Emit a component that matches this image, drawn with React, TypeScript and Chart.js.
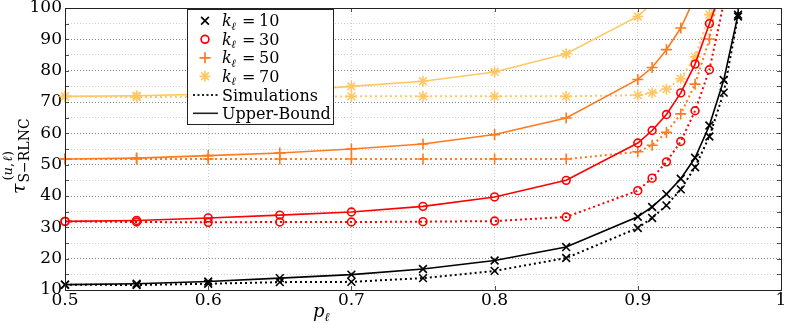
import React, { useEffect, useRef } from 'react';
import { Chart, registerables } from 'chart.js';

Chart.register(...registerables);

// ---- data ----
const pValues = [0.5, 0.55, 0.6, 0.65, 0.7, 0.75, 0.8, 0.85, 0.9, 0.91, 0.92, 0.93, 0.94, 0.95, 0.96, 0.97, 0.98];

const k10Upper = [11.7, 12.0, 12.7, 13.8, 14.9, 16.7, 19.4, 23.7, 33.4, 36.5, 40.6, 45.5, 52.2, 62.5, 77.0, 97.9, 250];
const k10Sim = [11.7, 11.6, 12.0, 12.5, 12.6, 13.8, 16.1, 20.2, 29.8, 33.0, 37.0, 42.1, 49.2, 59.0, 73.0, 97.3, 250];
const k30Upper = [31.9, 32.2, 33.0, 33.9, 34.9, 36.7, 39.7, 45.0, 56.9, 60.9, 66.0, 72.9, 82.1, 95.0, 108];
const k30Sim = [31.9, 31.7, 31.6, 31.7, 31.7, 31.8, 32.0, 33.3, 41.7, 45.7, 50.9, 57.4, 67.2, 80.3, 101.5];
const k50Upper = [51.8, 52.1, 52.9, 53.7, 55.0, 56.6, 59.6, 64.9, 77.2, 81.0, 86.7, 93.6, 103.5];
const k50Sim = [51.8, 51.8, 51.8, 51.8, 51.8, 51.8, 51.8, 51.8, 54.1, 56.2, 60.3, 66.2, 75.7, 90.1, 115];
const k70Upper = [71.8, 72.0, 72.5, 73.4, 75.0, 76.6, 79.6, 85.4, 97.3, 101.5];
const k70Sim = [71.8, 71.6, 71.7, 71.7, 71.8, 71.8, 71.8, 71.8, 72.2, 72.9, 74.1, 77.4, 84.4, 97.9, 110];

const kLabels = ['10', '30', '50', '70'];
const xTicks = [0.5, 0.6, 0.7, 0.8, 0.9, 1];

const COLORS = ['#000000', '#ff0000', '#ff7a1e', '#ffc864'];
const MARKERS = ['crossRot', 'circle', 'cross', 'star'];
const RADII = [5.5, 3.9, 5.5, 5.5];

const upperSeries = [k10Upper, k30Upper, k50Upper, k70Upper];
const simSeries = [k10Sim, k30Sim, k50Sim, k70Sim];

const FONT = '"DejaVu Serif", "Liberation Serif", serif';

function drawMarker(ctx: CanvasRenderingContext2D, style: string, x: number, y: number, r: number) {
  const d = r * Math.SQRT1_2;
  if (style === 'circle') {
    ctx.moveTo(x + r, y);
    ctx.arc(x, y, r, 0, Math.PI * 2);
  } else {
    if (style === 'cross' || style === 'star') {
      ctx.moveTo(x - r, y); ctx.lineTo(x + r, y);
      ctx.moveTo(x, y - r); ctx.lineTo(x, y + r);
    }
    if (style === 'crossRot' || style === 'star') {
      ctx.moveTo(x - d, y - d); ctx.lineTo(x + d, y + d);
      ctx.moveTo(x - d, y + d); ctx.lineTo(x + d, y - d);
    }
  }
}

const decor = {
  id: 'decor',
  afterDraw(chart: any) {
    const ctx = chart.ctx as CanvasRenderingContext2D;
    const { left, right, top, bottom } = chart.chartArea;
    const ys = chart.scales.y;
    const xs = chart.scales.x;
    ctx.save();
    // inward tick marks
    ctx.strokeStyle = '#222';
    ctx.lineWidth = 0.8;
    ctx.beginPath();
    for (let v = 15; v < 100; v += 5) {
      const py = Math.round(ys.getPixelForValue(v)) + 0.5;
      ctx.moveTo(left, py); ctx.lineTo(left + 4, py);
      ctx.moveTo(right, py); ctx.lineTo(right - 4, py);
    }
    for (const t of xTicks) {
      const px = Math.round(xs.getPixelForValue(t)) + 0.5;
      ctx.moveTo(px, bottom); ctx.lineTo(px, bottom - 4);
      ctx.moveTo(px, top); ctx.lineTo(px, top + 4);
    }
    ctx.stroke();
    // frame
    ctx.strokeStyle = '#222';
    ctx.lineWidth = 1;
    ctx.strokeRect(Math.round(left) + 0.5, Math.round(top) + 0.5, Math.round(right - left), Math.round(bottom - top));

    // legend
    const lx = 187.5, ly = 9.5, lw = 146, lh = 115;
    ctx.fillStyle = '#ffffff';
    ctx.fillRect(lx, ly, lw, lh);
    ctx.strokeStyle = '#222';
    ctx.lineWidth = 1;
    ctx.strokeRect(lx, ly, lw, lh);
    const rows = [20.7, 39.3, 57.8, 76.3, 95, 113.3];
    ctx.textBaseline = 'alphabetic';
    ctx.textAlign = 'left';
    for (let i = 0; i < 4; i++) {
      const cy = rows[i];
      ctx.strokeStyle = COLORS[i];
      ctx.lineWidth = 1.7;
      ctx.beginPath();
      drawMarker(ctx, MARKERS[i], 205, cy, RADII[i]);
      ctx.stroke();
      const base = cy + 5.5;
      ctx.fillStyle = '#000';
      ctx.font = `italic 16px ${FONT}`;
      ctx.fillText('k', 222, base);
      const kw = ctx.measureText('k').width;
      ctx.font = `italic 11px ${FONT}`;
      ctx.fillText('ℓ', 222 + kw - 0.5, base + 3.5);
      ctx.font = `16px ${FONT}`;
      ctx.fillText('=', 242, base);
      ctx.fillText(kLabels[i], 259, base);
    }
    // line samples
    ctx.strokeStyle = '#222';
    ctx.lineWidth = 1.8;
    ctx.setLineDash([2, 2.5]);
    ctx.beginPath(); ctx.moveTo(193, rows[4]); ctx.lineTo(218, rows[4]); ctx.stroke();
    ctx.setLineDash([]);
    ctx.lineWidth = 1.6;
    ctx.beginPath(); ctx.moveTo(193, rows[5]); ctx.lineTo(218, rows[5]); ctx.stroke();
    ctx.fillStyle = '#000';
    ctx.font = `16px ${FONT}`;
    ctx.fillText('Simulations', 222, rows[4] + 5.5);
    ctx.fillText('Upper-Bound', 222, rows[5] + 5.5);

    // x-axis title p_ℓ
    ctx.font = `italic 18px ${FONT}`;
    ctx.fillText('p', 313, 317);
    const pw = ctx.measureText('p').width;
    ctx.font = `italic 12px ${FONT}`;
    ctx.fillText('ℓ', 313 + pw, 321);

    // y-axis title τ^{(u,ℓ)}_{S−RLNC}
    ctx.save();
    ctx.translate(25, 194);
    ctx.rotate(-Math.PI / 2);
    ctx.font = `italic 19px ${FONT}`;
    ctx.fillText('τ', 0, 0);
    const tw = ctx.measureText('τ').width;
    ctx.font = `14px ${FONT}`;
    ctx.fillText('S\u2212RLNC', tw + 1, 4);
    let sx = tw + 3;
    const sup: [string, boolean][] = [['(', false], ['u', true], [',', false], ['ℓ', true], [')', false]];
    for (const [t, it] of sup) {
      ctx.font = `${it ? 'italic ' : ''}13px ${FONT}`;
      ctx.fillText(t, sx, -13);
      sx += ctx.measureText(t).width + (t === ',' ? 1.5 : 0);
    }
    ctx.restore();
    ctx.restore();
  },
};

export default function App() {
  const ref = useRef<HTMLCanvasElement>(null);
  useEffect(() => {
    const canvas = ref.current!;
    const mk = (vals: number[]) => vals.map((y, i) => ({ x: pValues[i], y }));
    const datasets: any[] = [];
    for (let i = 0; i < 4; i++) {
      for (const dashed of [false, true]) {
        datasets.push({
          label: `k=${kLabels[i]} ${dashed ? 'Simulations' : 'Upper-Bound'}`,
          data: mk(dashed ? simSeries[i] : upperSeries[i]),
          borderColor: COLORS[i],
          backgroundColor: COLORS[i],
          borderWidth: dashed ? 2 : 1.6,
          borderDash: dashed ? [2, 3] : [],
          pointStyle: MARKERS[i],
          pointRadius: RADII[i],
          pointBorderWidth: 1.6,
          pointBorderColor: COLORS[i],
          pointBackgroundColor: 'rgba(0,0,0,0)',
          tension: 0,
          fill: false,
          clip: { left: 10, right: 10, top: 0, bottom: 10 },
        });
      }
    }
    const chart = new Chart(canvas, {
      type: 'line',
      data: { datasets },
      options: {
        animation: false,
        responsive: false,
        events: [],
        layout: { padding: { left: 0, top: 8, right: 8, bottom: 0 } },
        plugins: { legend: { display: false }, tooltip: { enabled: false }, title: { display: false } },
        scales: {
          x: {
            type: 'linear',
            min: 0.5,
            max: 1,
            afterBuildTicks: (scale: any) => {
              scale.ticks = xTicks.map((v) => ({ value: v }));
            },
            afterFit: (scale: any) => {
              scale.height = 33;
              scale.paddingLeft = 0;
              scale.paddingRight = 0;
            },
            ticks: {
              autoSkip: false,
              maxRotation: 0,
              padding: 0,
              color: '#000',
              font: { family: FONT, size: 17 },
              callback: (v: any) => (Math.abs(v - 1) < 1e-9 ? '1' : Number(v).toFixed(1)),
            },
            grid: { color: '#c4c4c4', lineWidth: 0.8, drawTicks: false },
            border: { display: false, dash: [1, 2] },
          },
          y: {
            type: 'linear',
            min: 10,
            max: 100,
            afterFit: (scale: any) => {
              scale.width = 65;
              scale.paddingTop = 0;
              scale.paddingBottom = 0;
            },
            ticks: {
              stepSize: 5,
              autoSkip: false,
              padding: 3,
              color: '#000',
              font: { family: FONT, size: 17 },
              callback: (v: any) => (Math.round(v) % 10 === 0 ? String(Math.round(v)) : ''),
            },
            grid: {
              color: (c: any) => (c.tick && Math.round(c.tick.value) % 10 === 0 ? '#666' : '#c4c4c4'),
              lineWidth: 0.8,
              drawTicks: false,
            },
            border: { display: false, dash: [1, 2] },
          },
        },
      },
      plugins: [decor],
    });
    return () => chart.destroy();
  }, []);
  return (
    <div style={{ position: 'absolute', left: 0, top: 0, width: 789, height: 323, background: '#fff' }}>
      <canvas ref={ref} width={789} height={323} style={{ display: 'block', width: 789, height: 323 }} />
    </div>
  );
}
